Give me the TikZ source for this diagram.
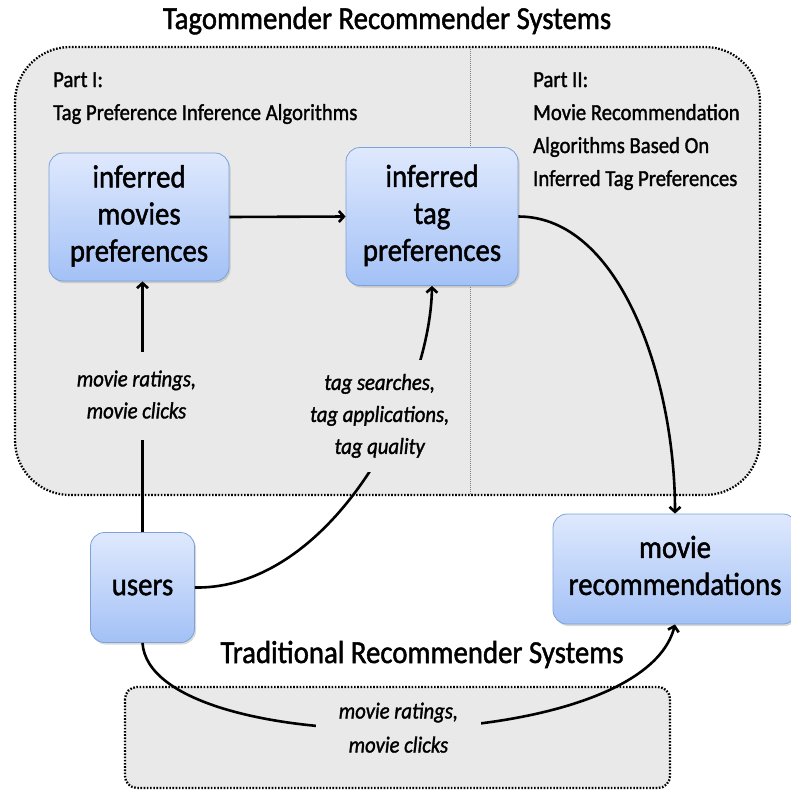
\documentclass[tikz,border=0pt]{standalone}
\usepackage{fontspec}
\setmainfont{Carlito}[RawFeature={embolden=1.5}]
\usepackage{graphicx}
\usetikzlibrary{shadows,arrows.meta}
\definecolor{panelgray}{HTML}{E9E9E9}
\definecolor{boxtop}{HTML}{DFE9FD}
\definecolor{boxbot}{HTML}{A3C1F6}
\definecolor{boxline}{HTML}{7CA2D8}
\newcommand{\sqz}[1]{\scalebox{0.9}[1]{#1}}
\newcommand{\stk}[1]{\sqz{\begin{tabular}{@{}c@{}}#1\end{tabular}}}
\newcommand{\stl}[1]{\sqz{\begin{tabular}[t]{@{}l@{}}#1\end{tabular}}}
\tikzset{
  panel/.style={draw=black, fill=panelgray, line width=2.3pt, dash pattern=on 1.6pt off 1.6pt},
  sepline/.style={draw=gray, line width=0.8pt, dash pattern=on 1pt off 1pt},
  box/.style={draw=boxline, line width=0.8pt, rounded corners=14pt,
    top color=boxtop, bottom color=boxbot, inner sep=0pt,
    drop shadow={opacity=0.3, shadow xshift=1.5pt, shadow yshift=-2pt},
    font=\fontsize{32}{37}\selectfont},
  heading/.style={font=\fontsize{32}{36}\selectfont, inner sep=0pt, anchor=base},
  parttext/.style={font=\fontsize{23}{33}\selectfont, inner sep=0pt, anchor=base west},
  flowlabel/.style={font=\fontsize{23}{32}\selectfont\itshape, fill=panelgray},
  conn/.style={line width=2.6pt, -{Straight Barb[length=5pt,width=11pt]}},
}
\begin{document}
\begin{tikzpicture}[x=1pt,y=-1pt]
\useasboundingbox (0,0) rectangle (791,790);
\fill[white] (0,0) rectangle (791,790);

% panels
\draw[panel, rounded corners=55pt] (15,47) rectangle (760,495);
\draw[sepline] (470,47) -- (470,495);
\draw[panel, rounded corners=12pt] (125,687) rectangle (670,788);

% headings
\node[heading] (title) at (387,29) {\sqz{Tagommender Recommender Systems}};
\node[heading] (trad) at (422,663) {\sqz{Traditional Recommender Systems}};

\node[parttext] (part1) at (53,87) {\stl{Part I:\\Tag Preference Inference Algorithms}};
\node[parttext] (part2) at (533,87) {\stl{Part II:\\Movie Recommendation\\Algorithms Based On\\Inferred Tag Preferences}};

% boxes
\node[box, minimum width=180pt, minimum height=128pt] (imp) at (139,217) {\stk{inferred\\movies\\preferences}};
\node[box, minimum width=172pt, minimum height=138pt] (itp) at (432,216.5) {\stk{inferred\\tag\\preferences}};
\node[box, minimum width=104pt, minimum height=110pt] (users) at (142.5,587.5) {\sqz{users}};
\node[box, minimum width=244pt, minimum height=110pt] (rec) at (675,569) {\stk{movie\\recommendations}};

% connectors
\draw[conn] (imp.east) -- (itp.west);

\draw[conn] (users.north) -- (users.north |- imp.south)
  node[flowlabel, pos=0.543, xshift=-6pt, inner xsep=3pt, inner ysep=12pt] (lab1) {\stk{movie ratings,\\movie clicks}};

\draw[conn] (users.east) .. controls +(135,2) and +(-2,115) .. (itp.south)
  node[flowlabel, pos=0.667, xshift=-20pt, inner xsep=4pt, inner ysep=8pt] (lab2) {\stk{tag searches,\\tag applications,\\tag quality}};

\draw[conn] (itp.east) .. controls +(102,0) and +(0,-134) .. (rec.north);

\draw[conn] (users.south) .. controls +(7.5,117.5) and +(-35,136) .. (rec.south)
  node[flowlabel, pos=0.5, inner xsep=23pt, inner ysep=3pt, font=\fontsize{23}{34}\selectfont\itshape] (lab3) {\stk{movie ratings,\\movie clicks}};
\end{tikzpicture}
\end{document}
